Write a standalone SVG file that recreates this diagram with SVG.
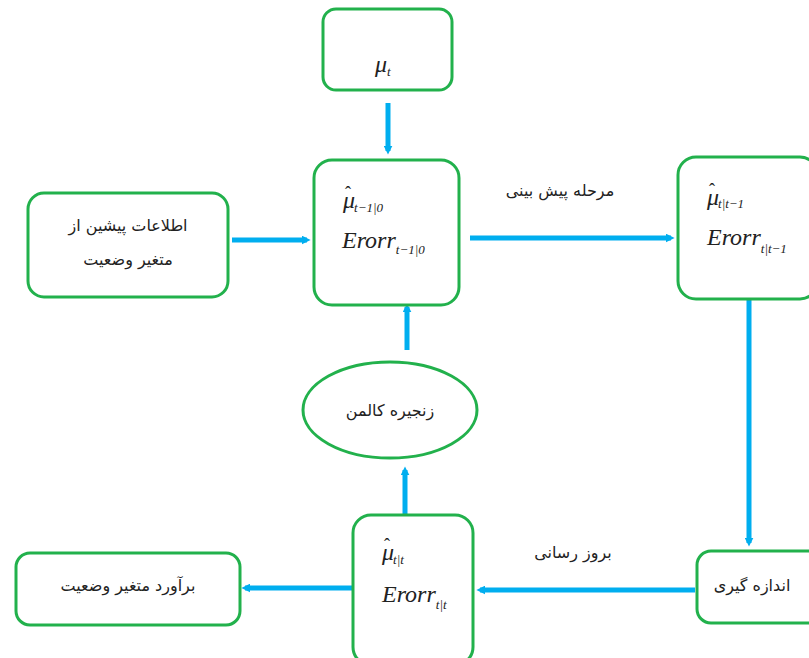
<svg xmlns="http://www.w3.org/2000/svg" width="809" height="658" viewBox="0 0 809 658">
<style>
.box{fill:#fff;stroke:#22B14C;stroke-width:3}
.ar{stroke:#00AEEF;stroke-width:5;fill:none}
.fa{font-family:'DejaVu Sans','Noto Sans',sans-serif;font-size:16px;fill:#222;direction:rtl}
.m{font-family:'Liberation Serif','Times New Roman','DejaVu Serif',serif;font-style:italic;font-size:24px;fill:#222}
.s{font-size:13px}
.h{font-size:18px;font-style:normal}
</style>
<defs>
<marker id="ah" viewBox="0 0 10 10" refX="6" refY="5" markerWidth="9" markerHeight="9" markerUnits="userSpaceOnUse" orient="auto">
<path d="M0,0 L10,5 L0,10 z" fill="#00AEEF"/>
</marker>
</defs>
<rect width="809" height="658" fill="#fff"/>
<g id="connectors">
<line class="ar" x1="388" y1="103" x2="388" y2="151" marker-end="url(#ah)"/>
<line class="ar" x1="232" y1="240" x2="307" y2="240" marker-end="url(#ah)"/>
<line class="ar" x1="470" y1="238" x2="671" y2="238" marker-end="url(#ah)"/>
<line class="ar" x1="749" y1="300" x2="749" y2="543" marker-end="url(#ah)"/>
<line class="ar" x1="695" y1="590" x2="480" y2="590" marker-end="url(#ah)"/>
<line class="ar" x1="352" y1="588" x2="245" y2="588" marker-end="url(#ah)"/>
<line class="ar" x1="405" y1="514" x2="405" y2="470" marker-end="url(#ah)"/>
<line class="ar" x1="407" y1="350" x2="407" y2="307" marker-end="url(#ah)"/>
</g>
<g id="mu_t">
<rect class="box" x="323" y="9" width="129" height="81" rx="13"/>
<text class="m" x="375" y="72">μ<tspan class="s" dy="4">t</tspan></text>
</g>
<g id="prior">
<rect class="box" x="28" y="193" width="200" height="104" rx="16"/>
<text class="fa" x="128" y="231" text-anchor="middle">اطلاعات پیشین از</text>
<text class="fa" x="128" y="265" text-anchor="middle">متغیر وضعیت</text>
</g>
<g id="center_top">
<rect class="box" x="314" y="160" width="145" height="145" rx="18"/>
<text class="m" x="343" y="208">μ<tspan class="h" dx="-10" dy="-9">ˆ</tspan><tspan class="s" dx="3" dy="13">t−1|0</tspan></text>
<text class="m" x="342" y="248">Erorr<tspan class="s" dy="6">t−1|0</tspan></text>
</g>
<g id="predicted">
<rect class="box" x="678" y="157" width="140" height="142" rx="18"/>
<text class="m" x="707" y="205">μ<tspan class="h" dx="-10" dy="-9">ˆ</tspan><tspan class="s" dx="3" dy="12">t|t−1</tspan></text>
<text class="m" x="707" y="245">Erorr<tspan class="s" dy="8">t|t−1</tspan></text>
</g>
<g id="measure">
<rect class="box" x="697" y="551" width="125" height="72" rx="14"/>
<text class="fa" x="752" y="591" text-anchor="middle">اندازه گیری</text>
</g>
<g id="updated">
<rect class="box" x="353" y="515" width="120" height="150" rx="18"/>
<text class="m" x="382" y="560">μ<tspan class="h" dx="-10" dy="-9">ˆ</tspan><tspan class="s" dx="3" dy="13">t|t</tspan></text>
<text class="m" x="382" y="602">Erorr<tspan class="s" dy="7">t|t</tspan></text>
</g>
<g id="kalman">
<ellipse class="box" cx="390" cy="410" rx="87" ry="48"/>
<text class="fa" x="390" y="416" text-anchor="middle">زنجیره کالمن</text>
</g>
<g id="estimate">
<rect class="box" x="16" y="553" width="224" height="72" rx="14"/>
<text class="fa" x="128" y="591" text-anchor="middle">برآورد متغیر وضعیت</text>
</g>
<g id="labels">
<text class="fa" x="560" y="196" text-anchor="middle">مرحله پیش بینی</text>
<text class="fa" x="573" y="558" text-anchor="middle">بروز رسانی</text>
</g>
</svg>
